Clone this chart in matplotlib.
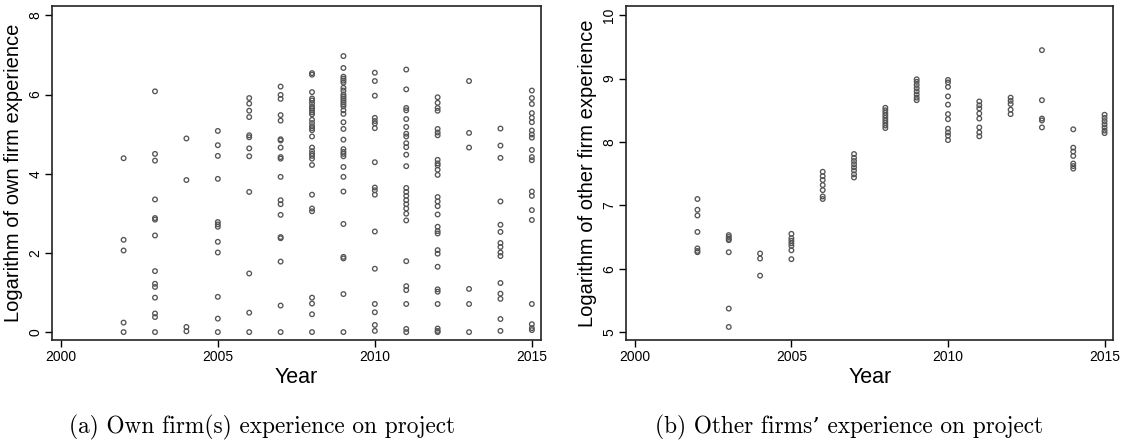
import matplotlib
matplotlib.use("Agg")
import matplotlib.pyplot as plt

# log experience values for each project, grouped by year
years = list(range(2002, 2016))

own_exp = [
    [4.39, 2.33, 2.06, 0.24, 0.0],
    [6.08, 4.5, 4.33, 3.35, 2.88, 2.84, 2.44, 1.54, 1.22, 1.14, 0.87, 0.47, 0.38, 0.0],
    [4.89, 3.84, 0.13, 0.02],
    [5.08, 4.72, 4.45, 3.87, 2.78, 2.72, 2.66, 2.28, 2.01, 0.89, 0.34, 0.0],
    [5.91, 5.77, 5.59, 5.43, 4.97, 4.92, 4.64, 4.44, 3.54, 1.48, 0.49, 0.0],
    [6.2, 5.99, 5.89, 5.48, 5.34, 4.87, 4.84, 4.66, 4.42, 4.38, 3.92, 3.33, 3.23,
     2.96, 2.4, 2.37, 1.78, 0.67, 0.0],
    [6.54, 6.5, 6.06, 5.9, 5.85, 5.78, 5.7, 5.65, 5.6, 5.55, 5.5, 5.36, 5.28, 5.2,
     5.15, 5.1, 4.94, 4.66, 4.57, 4.5, 4.45, 4.38, 4.22, 3.47, 3.12, 3.05, 0.87,
     0.72, 0.45, 0.0],
    [6.97, 6.67, 6.45, 6.4, 6.35, 6.3, 6.17, 6.1, 6.0, 5.95, 5.9, 5.85, 5.8, 5.75,
     5.7, 5.6, 5.51, 5.3, 5.13, 4.86, 4.62, 4.55, 4.5, 4.44, 4.17, 3.92, 3.55,
     2.73, 1.9, 1.86, 0.96, 0.0],
    [6.55, 6.34, 5.97, 5.41, 5.33, 5.27, 5.15, 4.29, 3.65, 3.58, 3.47, 2.54, 1.6,
     0.71, 0.5, 0.18, 0.03],
    [6.63, 6.13, 5.66, 5.6, 5.38, 5.18, 5.01, 4.94, 4.77, 4.67, 4.48, 4.19, 3.64,
     3.54, 3.44, 3.33, 3.23, 3.12, 2.99, 2.82, 1.79, 1.16, 1.06, 0.71, 0.08, 0.0],
    [5.93, 5.79, 5.66, 5.59, 5.13, 5.04, 4.97, 4.35, 4.26, 4.21, 4.1, 3.97, 3.41,
     3.3, 3.18, 2.97, 2.66, 2.55, 2.49, 2.07, 1.98, 1.65, 1.08, 1.02, 0.71, 0.09,
     0.03, 0.0],
    [6.34, 5.03, 4.66, 1.09, 0.71, 0.0],
    [5.14, 4.71, 4.4, 3.3, 2.71, 2.53, 2.25, 2.15, 2.01, 1.92, 1.24, 0.97, 0.84,
     0.33, 0.03],
    [6.1, 5.91, 5.76, 5.53, 5.41, 5.3, 5.09, 4.99, 4.91, 4.6, 4.42, 4.34, 3.55,
     3.44, 3.08, 2.83, 0.71, 0.2, 0.1, 0.05],
]

other_exp = [
    [7.1, 6.93, 6.84, 6.58, 6.32, 6.28, 6.26],
    [6.53, 6.5, 6.47, 6.45, 6.26, 5.37, 5.08],
    [6.24, 6.16, 5.89],
    [6.55, 6.48, 6.44, 6.4, 6.36, 6.29, 6.15],
    [7.53, 7.46, 7.4, 7.32, 7.24, 7.14, 7.1],
    [7.81, 7.75, 7.7, 7.65, 7.6, 7.55, 7.49, 7.44],
    [8.54, 8.5, 8.46, 8.42, 8.38, 8.34, 8.3, 8.26, 8.22],
    [8.99, 8.95, 8.9, 8.85, 8.8, 8.75, 8.7, 8.66],
    [8.98, 8.94, 8.87, 8.72, 8.59, 8.44, 8.36, 8.21, 8.15, 8.1, 8.03],
    [8.64, 8.58, 8.53, 8.45, 8.37, 8.23, 8.15, 8.09],
    [8.7, 8.65, 8.6, 8.51, 8.44],
    [9.45, 8.66, 8.37, 8.34, 8.23],
    [8.2, 7.91, 7.85, 7.78, 7.66, 7.62, 7.58],
    [8.43, 8.38, 8.33, 8.28, 8.23, 8.18, 8.14],
]

x_ticks = [2000, 2005, 2010, 2015]

plt.rcParams["font.family"] = ["Liberation Sans", "DejaVu Sans"]

fig = plt.figure(figsize=(11.28, 4.41), dpi=100)
ax1 = fig.add_axes([0.0461, 0.229, 0.4332, 0.7574])
ax2 = fig.add_axes([0.555, 0.229, 0.432, 0.7574])


def flatten(groups):
    xs, ys = [], []
    for yr, vals in zip(years, groups):
        xs += [yr] * len(vals)
        ys += vals
    return xs, ys


def draw_panel(ax, groups, ylim, yticks, ylabel):
    xs, ys = flatten(groups)
    ax.scatter(xs, ys, s=11, facecolors="none", edgecolors="#555555",
               linewidths=0.95, zorder=3)
    ax.set_xlim(1999.72, 2015.28)
    ax.set_ylim(*ylim)
    ax.set_xticks(x_ticks)
    ax.set_yticks(yticks)
    ax.tick_params(direction="out", length=5, width=1, labelsize=10,
                   colors="black", pad=2)
    for lab in ax.get_yticklabels():
        lab.set_rotation(90)
        lab.set_va("center")
    for sp in ax.spines.values():
        sp.set_linewidth(1.2)
        sp.set_color("#222222")
    ax.set_xlabel("Year", fontsize=15.5, labelpad=2)
    ax.set_ylabel(ylabel, fontsize=14.5, labelpad=4)


draw_panel(ax1, own_exp, (-0.2, 8.235), [0, 2, 4, 6, 8],
           "Logarithm of own firm experience")
draw_panel(ax2, other_exp, (4.874, 10.147), [5, 6, 7, 8, 9, 10],
           "Logarithm of other firm experience")

cap = dict(fontsize=16.8, family=["cmr10", "DejaVu Serif"], ha="center", va="center")
fig.text(0.232, 0.03, "(a) Own firm(s) experience on project", **cap)
fig.text(0.753, 0.03, "(b) Other firms\u2019 experience on project", **cap)

fig.savefig("out.png", dpi=100)
